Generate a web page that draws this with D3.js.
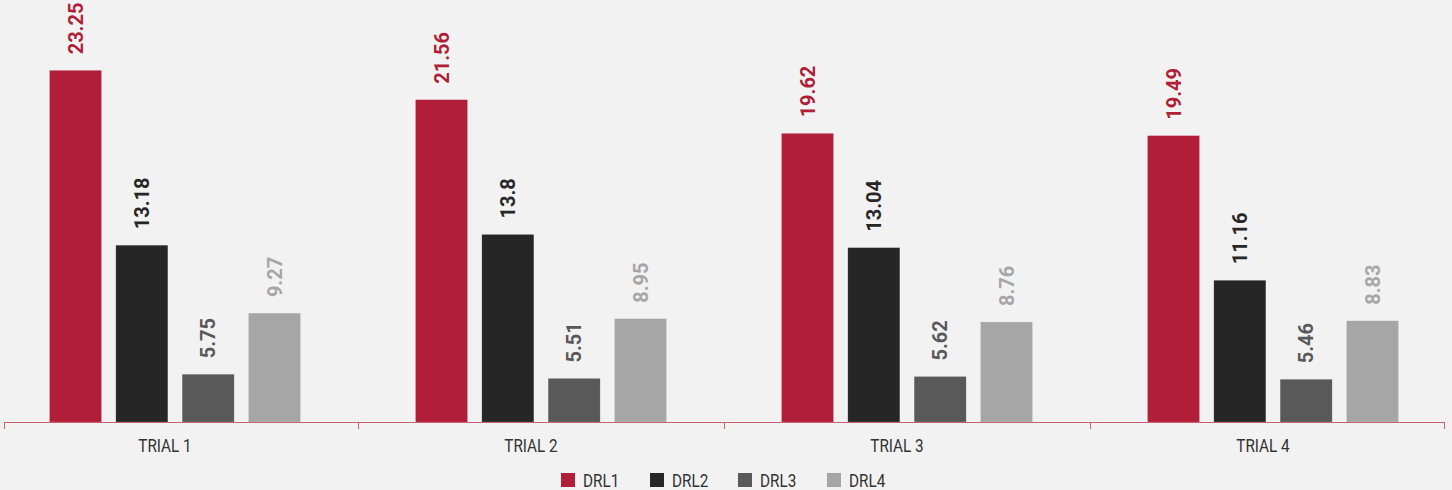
<!DOCTYPE html>
<html>
<head>
<meta charset="utf-8">
<script src="https://cdn.jsdelivr.net/npm/d3@7"></script>
<style>
  html, body { margin: 0; padding: 0; background: #f2f2f2; }
  svg { display: block; }
</style>
</head>
<body>
<div id="chart"></div>
<script>
// Trial results for the four DRL runs
const categories = ["TRIAL 1", "TRIAL 2", "TRIAL 3", "TRIAL 4"];
const seriesNames = ["DRL1", "DRL2", "DRL3", "DRL4"];
const drl1 = [23.25, 21.56, 19.62, 19.49];
const drl2 = [13.18, 13.8, 13.04, 11.16];
const drl3 = [5.75, 5.51, 5.62, 5.46];
const drl4 = [9.27, 8.95, 8.76, 8.83];
const seriesValues = [drl1, drl2, drl3, drl4];
const yMin = 3;
const yMax = 27.3;

const colors = ["#b01e37", "#262626", "#595959", "#a6a6a6"];

const W = 1452, H = 490;
const baseY = 422;
const axisStart = 4, axisEnd = 1444;

const svg = d3.select("#chart").append("svg")
  .attr("width", W).attr("height", H);

svg.append("rect").attr("width", W).attr("height", H).attr("fill", "#f2f2f2");

const x0 = d3.scaleBand().domain(categories).range([-8, 1456]).paddingInner(0).paddingOuter(0);
const x1 = d3.scaleBand().domain(seriesNames).range([0, x0.bandwidth()])
  .paddingInner(0.216).paddingOuter(0.867);
const y = d3.scaleLinear().domain([yMin, yMax]).range([baseY, 0]);

const rows = categories.map((c, i) => ({
  cat: c,
  items: seriesNames.map((s, j) => ({ s, j, v: seriesValues[j][i] }))
}));

const groups = svg.append("g").selectAll("g").data(rows).join("g")
  .attr("transform", d => `translate(${x0(d.cat)},0)`);

groups.selectAll("rect").data(d => d.items).join("rect")
  .attr("x", d => x1(d.s))
  .attr("y", d => y(d.v))
  .attr("width", x1.bandwidth())
  .attr("height", d => y(yMin) - y(d.v))
  .attr("fill", d => colors[d.j])
  .attr("stroke", "rgba(255,255,255,0.25)")
  .attr("stroke-width", 0.6);

// value labels, rotated above each bar
groups.selectAll("text.val").data(d => d.items).join("text")
  .attr("class", "val")
  .attr("transform", d => `translate(${x1(d.s) + x1.bandwidth() / 2},${y(d.v) - 16}) rotate(-90)`)
  .attr("dy", "0.36em")
  .attr("text-anchor", "start")
  .attr("font-family", "Roboto, 'Liberation Sans', sans-serif")
  .attr("font-weight", 700)
  .attr("font-size", 20)
  .attr("fill", d => colors[d.j])
  .text(d => d.v);

// x axis
const axisColor = "#c9606f";
svg.append("line")
  .attr("x1", axisStart).attr("x2", axisEnd)
  .attr("y1", baseY + 0.5).attr("y2", baseY + 0.5)
  .attr("stroke", axisColor).attr("stroke-width", 1);

const tickXs = categories.map(c => x0(c)).concat([x0.range()[1]])
  .map(v => Math.min(Math.max(v, axisStart), axisEnd));
svg.selectAll("line.tick").data(tickXs).join("line")
  .attr("class", "tick")
  .attr("x1", d => Math.round(d) + 0.5).attr("x2", d => Math.round(d) + 0.5)
  .attr("y1", baseY).attr("y2", baseY + 7)
  .attr("stroke", axisColor).attr("stroke-width", 1);

svg.selectAll("text.cat").data(categories).join("text")
  .attr("class", "cat")
  .attr("transform", d => `translate(${x0(d) + x0.bandwidth() / 2 - 10},452) scale(0.85,1)`)
  .attr("text-anchor", "middle")
  .attr("font-family", "Roboto, 'Liberation Sans', sans-serif")
  .attr("font-size", 18)
  .attr("fill", "#333333")
  .text(d => d);

// legend
const legendX = [561, 650, 738, 827];
const legend = svg.append("g").selectAll("g").data(seriesNames).join("g")
  .attr("transform", (d, i) => `translate(${legendX[i]},473)`);
legend.append("rect")
  .attr("width", 14).attr("height", 14)
  .attr("fill", (d, i) => colors[i]);
legend.append("text")
  .attr("transform", "translate(22,14) scale(0.85,1)")
  .attr("font-family", "Roboto, 'Liberation Sans', sans-serif")
  .attr("font-size", 18)
  .attr("fill", "#333333")
  .text(d => d);
</script>
</body>
</html>
